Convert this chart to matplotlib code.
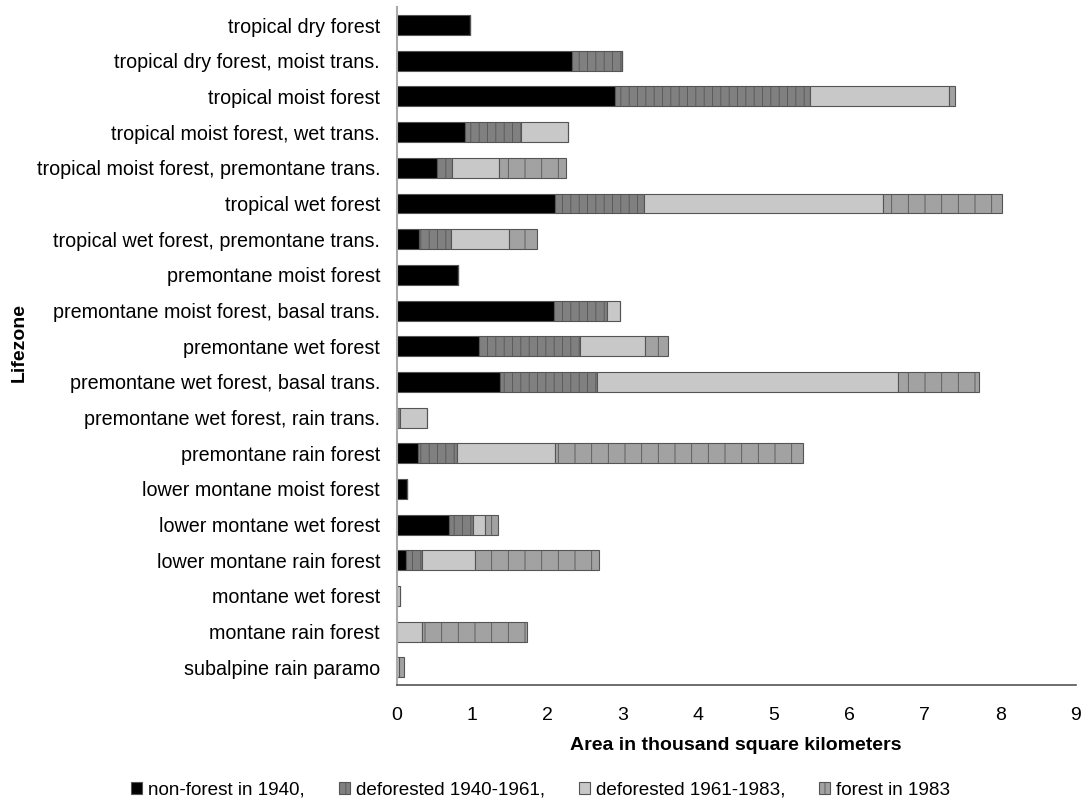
import matplotlib
matplotlib.use("Agg")
import matplotlib.pyplot as plt
import numpy as np
from matplotlib.patches import Patch

plt.rcParams['font.family'] = ['Liberation Sans', 'DejaVu Sans']
plt.rcParams['hatch.linewidth'] = 0.6

lifezones = [
    "tropical dry forest",
    "tropical dry forest, moist trans.",
    "tropical moist forest",
    "tropical moist forest, wet trans.",
    "tropical moist forest, premontane trans.",
    "tropical wet forest",
    "tropical wet forest, premontane trans.",
    "premontane moist forest",
    "premontane moist forest, basal trans.",
    "premontane wet forest",
    "premontane wet forest, basal trans.",
    "premontane wet forest, rain trans.",
    "premontane rain forest",
    "lower montane moist forest",
    "lower montane wet forest",
    "lower montane rain forest",
    "montane wet forest",
    "montane rain forest",
    "subalpine rain paramo",
]

# area in thousand km2
nonforest_1940 = [0.97, 2.32, 2.89, 0.90, 0.53, 2.10, 0.29, 0.81, 2.08, 1.09,
                  1.37, 0.00, 0.28, 0.13, 0.69, 0.12, 0.00, 0.00, 0.00]
defor_1940_1961 = [0.00, 0.67, 2.59, 0.75, 0.20, 1.18, 0.43, 0.00, 0.71, 1.34,
                   1.28, 0.05, 0.52, 0.00, 0.32, 0.22, 0.00, 0.00, 0.00]
defor_1961_1983 = [0.00, 0.00, 1.84, 0.62, 0.62, 3.17, 0.77, 0.00, 0.17, 0.86,
                   3.99, 0.35, 1.30, 0.00, 0.16, 0.70, 0.05, 0.33, 0.03]
forest_1983 = [0.00, 0.00, 0.08, 0.00, 0.89, 1.57, 0.37, 0.00, 0.00, 0.30,
               1.08, 0.00, 3.29, 0.00, 0.17, 1.64, 0.00, 1.40, 0.06]

series = [
    ("non-forest in 1940,", nonforest_1940, "#000000", None),
    ("deforested 1940-1961,", defor_1940_1961, "#808080", "||"),
    ("deforested 1961-1983,", defor_1961_1983, "#c8c8c8", None),
    ("forest in 1983", forest_1983, "#a2a2a2", "|"),
]

fig = plt.figure(figsize=(10.81, 8.07), dpi=100)
ax = fig.add_axes([0.367, 0.151, 0.628, 0.84])

y = np.arange(len(lifezones))
left = np.zeros(len(lifezones))
handles = []
for label, vals, color, hatch in series:
    vals = np.array(vals)
    ax.barh(y, vals, left=left, height=0.56, color=color, edgecolor="#555555",
            linewidth=0.8, hatch=hatch)
    left += vals
    handles.append(Patch(facecolor=color, edgecolor="#555555", linewidth=0.8,
                         hatch=hatch, label=label))

ax.set_ylim(len(lifezones) - 0.5, -0.5)
ax.set_xlim(0, 9)
ax.set_xticks(range(10))
ax.set_yticks(y)
ax.set_yticklabels(lifezones, fontsize=14.2)
ax.tick_params(axis='y', length=0, pad=12)
ax.tick_params(axis='x', length=0, pad=16, labelsize=14)

for s in ("top", "right"):
    ax.spines[s].set_visible(False)
ax.spines["left"].set_color("#aaaaaa")
ax.spines["left"].set_linewidth(1.5)
ax.spines["bottom"].set_color("#555555")
ax.spines["bottom"].set_linewidth(1.2)

ax.set_xlabel("Area in thousand square kilometers", fontsize=14,
              fontweight="bold", labelpad=9)
fig.text(0.018, 0.575, "Lifezone", rotation=90, fontsize=14,
         fontweight="bold", va="center", ha="center")

fig.legend(handles=handles, loc="center", bbox_to_anchor=(0.50, 0.021),
           ncol=4, frameon=False, fontsize=13.6, handlelength=0.6,
           handleheight=0.6, handletextpad=0.3, columnspacing=1.8)

fig.savefig("out.png", dpi=100)
